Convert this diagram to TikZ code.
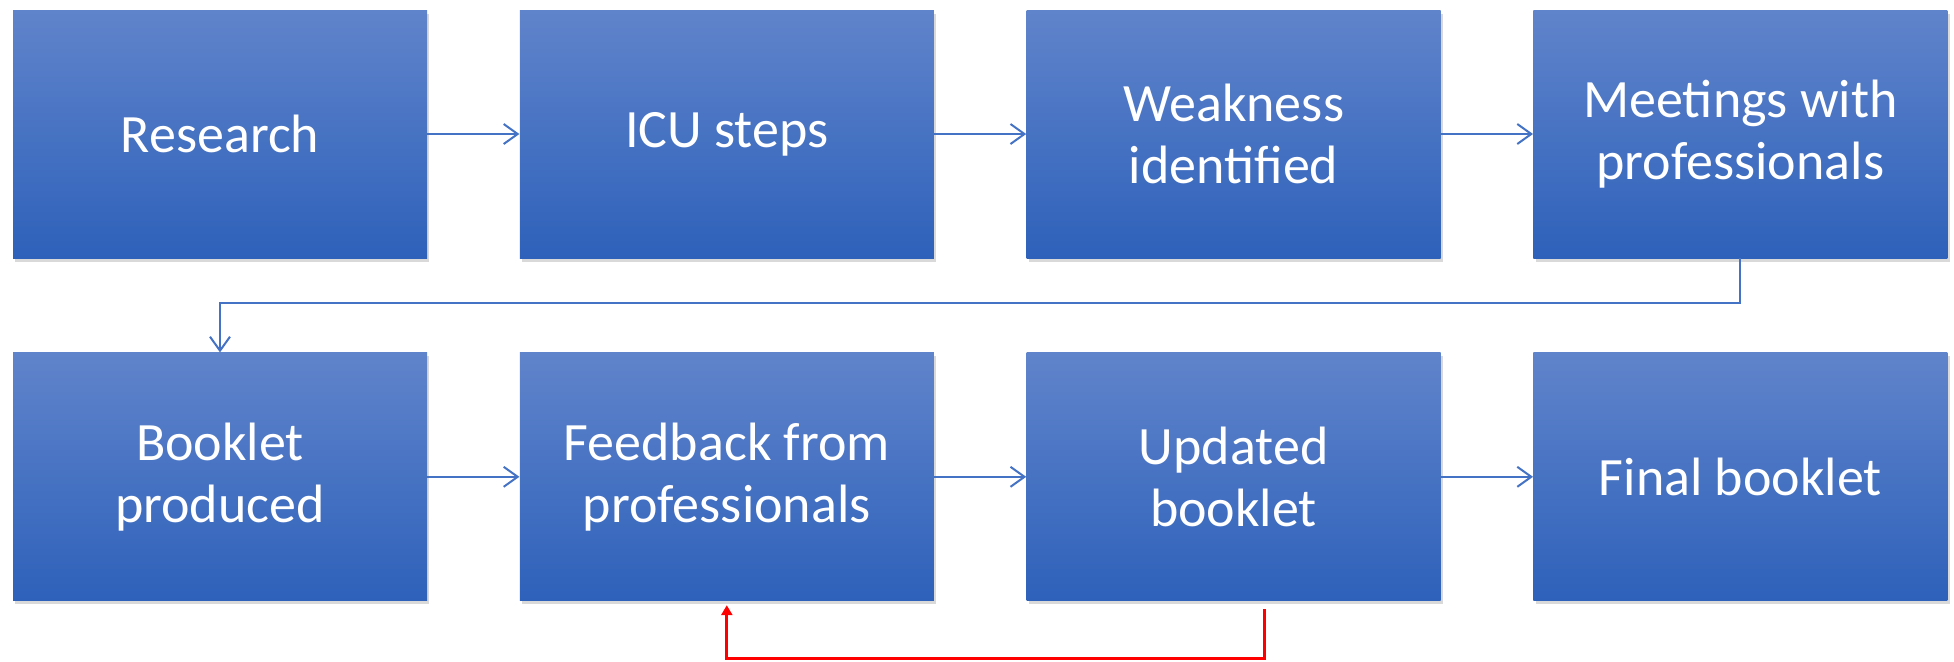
\documentclass[tikz,border=0pt]{standalone}
\usepackage{fontspec}
\setmainfont{Carlito}
\usetikzlibrary{positioning, arrows.meta, shadows}
\definecolor{boxTop}{RGB}{96,132,203}
\definecolor{boxBottom}{RGB}{46,97,186}
\definecolor{flowColor}{RGB}{68,114,196}
\tikzstyle{stepBox} = [draw=none, top color=boxTop, bottom color=boxBottom, minimum width=207pt, minimum height=124pt, inner sep=0pt, text=white, align=center, font=\fontsize{27}{31}\selectfont, drop shadow={opacity=0.3, shadow xshift=1.2pt, shadow yshift=-1.8pt}]
\tikzstyle{flowLine} = [color=flowColor, line width=1pt, -{Straight Barb[length=7pt, width=10pt]}]
\tikzstyle{loopLine} = [color=red, line width=1.6pt, -{Triangle[length=5pt, width=5.5pt]}]

\begin{document}
\begin{tikzpicture}[node distance = 47pt and 46pt]
  \useasboundingbox (0,0) rectangle (977pt,-330.5pt);
  % first row
  \node [stepBox] (research) at (110pt,-67pt) {Research};
  \node [stepBox, right = of research] (icuSteps) {ICU steps};
  \node [stepBox, right = of icuSteps] (weakness) {Weakness\\identified};
  \node [stepBox, right = of weakness] (meetings) {Meetings with\\professionals};
  % second row
  \node [stepBox, below = of research] (produced) {Booklet\\produced};
  \node [stepBox, right = of produced] (feedback) {Feedback from\\professionals};
  \node [stepBox, right = of feedback] (updated) {Updated\\booklet};
  \node [stepBox, right = of updated] (final) {Final booklet};

  \draw [flowLine] (research) -- (icuSteps);
  \draw [flowLine] (icuSteps) -- (weakness);
  \draw [flowLine] (weakness) -- (meetings);
  \draw [flowLine] (meetings.south) -- ++(0,-22.5pt) -| (produced.north);
  \draw [flowLine] (produced) -- (feedback);
  \draw [flowLine] (feedback) -- (updated);
  \draw [flowLine] (updated) -- (final);
  \draw [loopLine, shorten <= 4pt, shorten >= 2pt] ([xshift=15.5pt]updated.south) -- ++(0,-28.5pt) -| (feedback.south);
\end{tikzpicture}
\end{document}
